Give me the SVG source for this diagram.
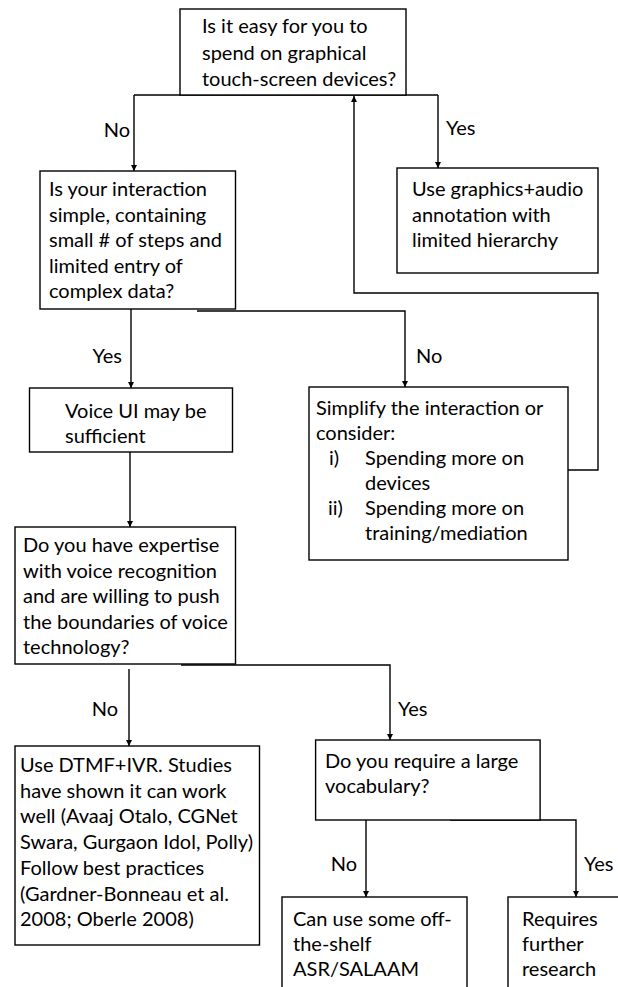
<svg xmlns="http://www.w3.org/2000/svg" width="618" height="987" viewBox="0 0 618 987">
  <defs>
    <marker id="arrow" viewBox="0 0 6 6" refX="6" refY="3" markerWidth="6" markerHeight="6" markerUnits="userSpaceOnUse" orient="auto">
      <path d="M0,0 L6,3 L0,6 Z" fill="#000"/>
    </marker>
    <style>
      .box { fill: #fff; stroke: #000; stroke-width: 1.4; }
      .t { font-family: Lato, "Liberation Sans", sans-serif; font-size: 20px; fill: #000; }
      .edge { fill: none; stroke: #000; stroke-width: 1.4; }
      .arr { marker-end: url(#arrow); }
    </style>
  </defs>
  <rect width="618" height="987" fill="#fff"/>

  <!-- connectors and their branch labels -->
  <g id="connectors">
    <path class="edge" d="M134,95 H438"/>
    <path class="edge arr" d="M134,95 V171"/>
    <path class="edge arr" d="M438,95 V168"/>
    <path class="edge arr" d="M568,470 H598 V293 H354 V96"/>
    <path class="edge arr" d="M131,309 V388"/>
    <path class="edge arr" d="M197,311 H405 V387"/>
    <path class="edge arr" d="M130,452 V527"/>
    <path class="edge arr" d="M181,665 H390 V740"/>
    <path class="edge arr" d="M129,669 V746"/>
    <path class="edge arr" d="M366,820 V897"/>
    <path class="edge arr" d="M450,820 H576 V897"/>
    <text class="t" x="130" y="137" text-anchor="end">No</text>
    <text class="t" x="446" y="135">Yes</text>
    <text class="t" x="122" y="363" text-anchor="end">Yes</text>
    <text class="t" x="416" y="363">No</text>
    <text class="t" x="118" y="716" text-anchor="end">No</text>
    <text class="t" x="398" y="716">Yes</text>
    <text class="t" x="357" y="871" text-anchor="end">No</text>
    <text class="t" x="584" y="871">Yes</text>
  </g>

  <g id="q-touchscreen">
    <rect class="box" x="180" y="9" width="226" height="86"/>
    <text class="t" x="202" y="33">Is it easy for you to</text>
    <text class="t" x="202" y="59.5">spend on graphical</text>
    <text class="t" x="202" y="86">touch-screen devices?</text>
  </g>

  <g id="graphics-audio">
    <rect class="box" x="397" y="168" width="201" height="105"/>
    <text class="t" x="412" y="196">Use graphics+audio</text>
    <text class="t" x="412" y="221.5">annotation with</text>
    <text class="t" x="412" y="247">limited hierarchy</text>
  </g>

  <g id="q-simple">
    <rect class="box" x="40" y="171" width="195.5" height="138"/>
    <text class="t" x="49" y="196">Is your interaction</text>
    <text class="t" x="49" y="221.5">simple, containing</text>
    <text class="t" x="49" y="247">small # of steps and</text>
    <text class="t" x="49" y="272.5">limited entry of</text>
    <text class="t" x="49" y="298">complex data?</text>
  </g>

  <g id="voice-ui">
    <rect class="box" x="29.5" y="388" width="203" height="64"/>
    <text class="t" x="65" y="418">Voice UI may be</text>
    <text class="t" x="65" y="443">sufficient</text>
  </g>

  <g id="simplify">
    <rect class="box" x="309" y="387" width="259" height="173"/>
    <text class="t" x="316" y="415">Simplify the interaction or</text>
    <text class="t" x="316" y="440">consider:</text>
    <text class="t" x="329" y="465">i)</text>
    <text class="t" x="365" y="465">Spending more on</text>
    <text class="t" x="365" y="490">devices</text>
    <text class="t" x="328" y="515">ii)</text>
    <text class="t" x="365" y="515">Spending more on</text>
    <text class="t" x="365" y="540">training/mediation</text>
  </g>

  <g id="q-expertise">
    <rect class="box" x="15" y="527" width="220.5" height="137"/>
    <text class="t" x="23" y="552">Do you have expertise</text>
    <text class="t" x="23" y="578">with voice recognition</text>
    <text class="t" x="23" y="603">and are willing to push</text>
    <text class="t" x="23" y="629">the boundaries of voice</text>
    <text class="t" x="23" y="654">technology?</text>
  </g>

  <g id="dtmf-ivr">
    <rect class="box" x="15" y="746" width="244.5" height="199"/>
    <text class="t" x="20" y="772">Use DTMF+IVR. Studies</text>
    <text class="t" x="20" y="797.7">have shown it can work</text>
    <text class="t" x="20" y="823.4">well (Avaaj Otalo, CGNet</text>
    <text class="t" x="20" y="849.1">Swara, Gurgaon Idol, Polly)</text>
    <text class="t" x="20" y="874.8">Follow best practices</text>
    <text class="t" x="20" y="900.5">(Gardner-Bonneau et al.</text>
    <text class="t" x="20" y="926.2">2008; Oberle 2008)</text>
  </g>

  <g id="q-vocabulary">
    <rect class="box" x="315.6" y="740" width="224.5" height="80"/>
    <text class="t" x="325" y="768">Do you require a large</text>
    <text class="t" x="325" y="793">vocabulary?</text>
  </g>

  <g id="off-the-shelf">
    <rect class="box" x="282" y="897" width="185" height="110"/>
    <text class="t" x="293" y="926">Can use some off-</text>
    <text class="t" x="293" y="951">the-shelf</text>
    <text class="t" x="293" y="976">ASR/SALAAM</text>
  </g>

  <g id="further-research">
    <rect class="box" x="508" y="897" width="130" height="110"/>
    <text class="t" x="522" y="926">Requires</text>
    <text class="t" x="522" y="951">further</text>
    <text class="t" x="522" y="976">research</text>
  </g>
</svg>
